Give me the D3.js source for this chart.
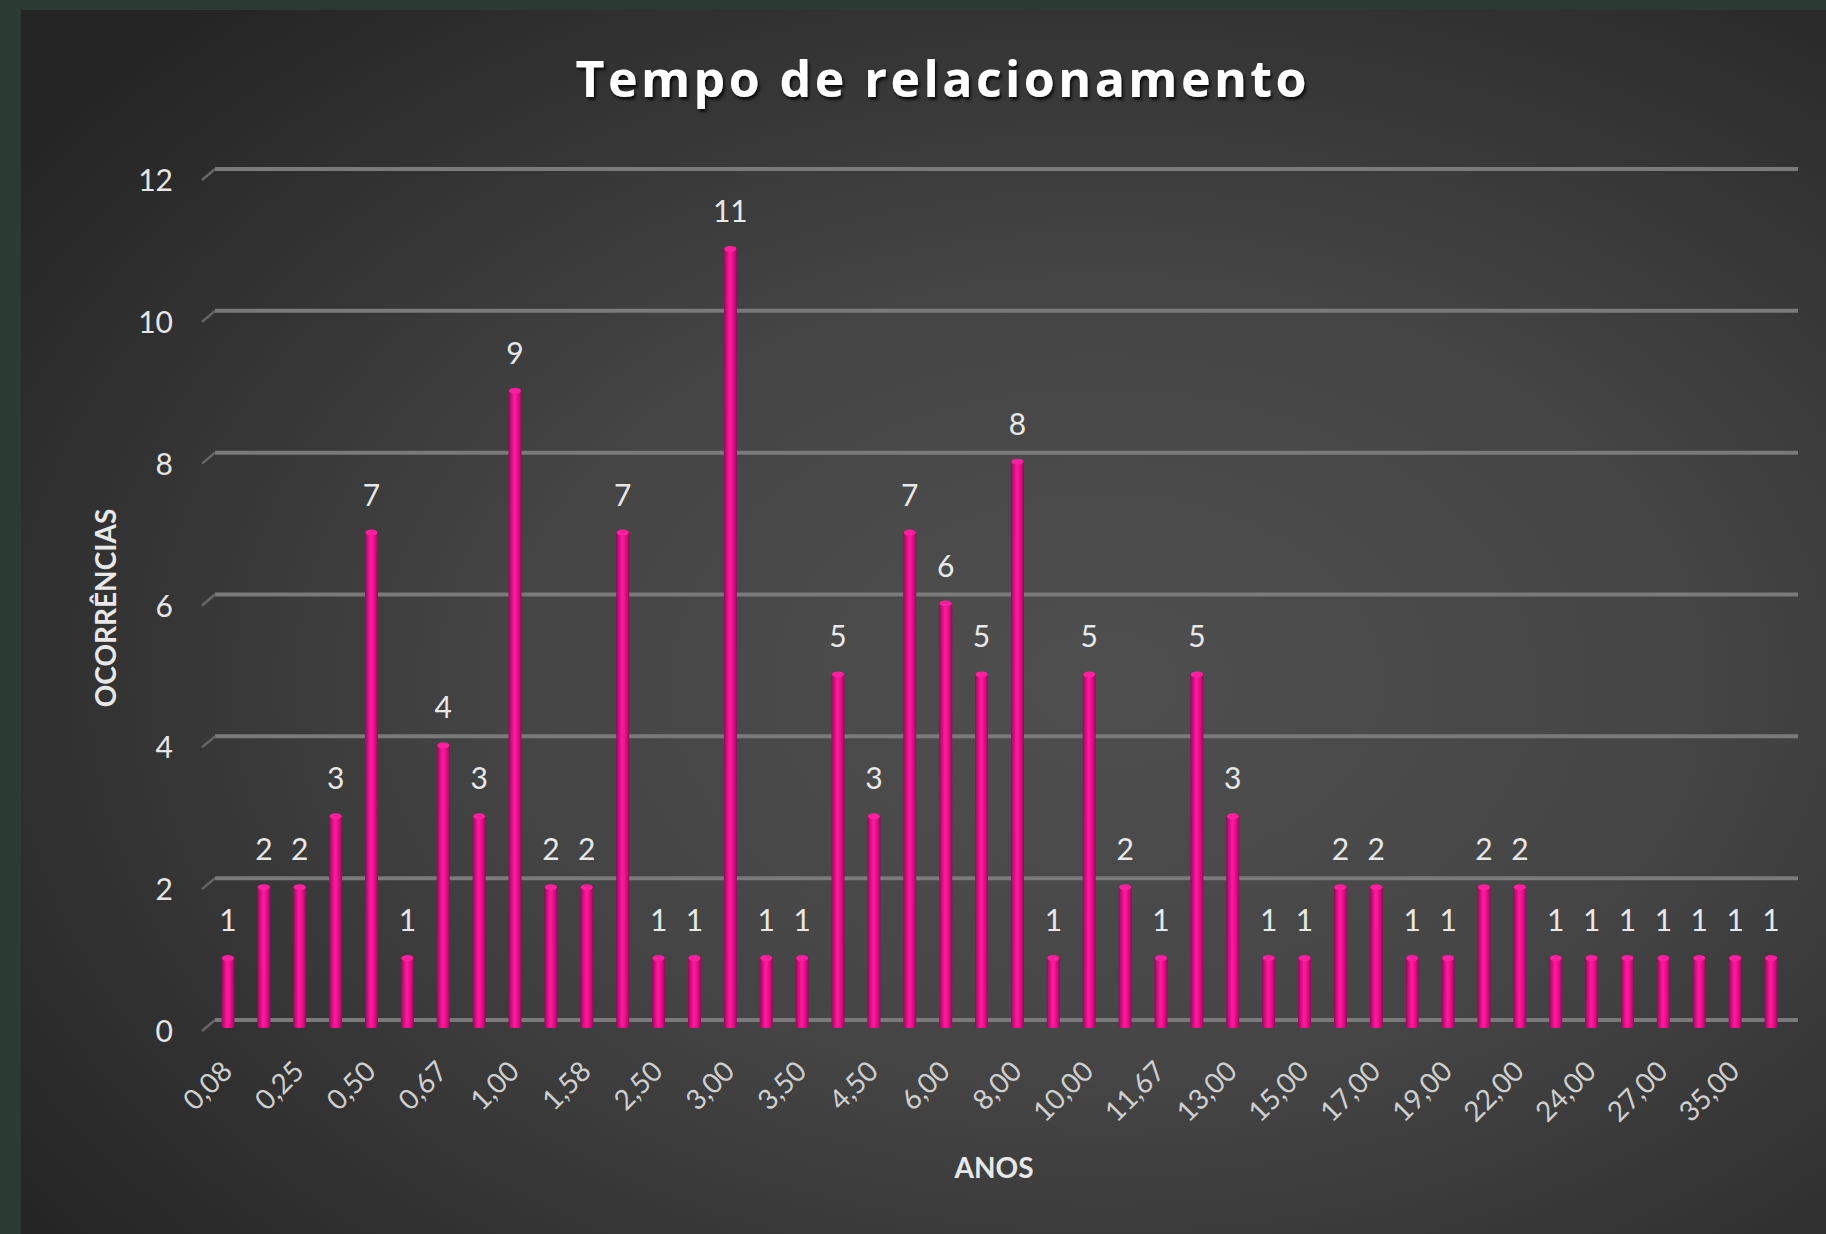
<!DOCTYPE html>
<html><head><meta charset="utf-8">
<script src="https://cdn.jsdelivr.net/npm/d3@7"></script>
<style>html,body{margin:0;padding:0;background:#2b3a33;} svg{display:block}</style>
</head><body>
<script>
// ---- data ----
const categories = ["0,08","0,17","0,25","0,33","0,50","0,58","0,67","0,75","1,00","1,50","1,58","2,00",
  "2,50","2,75","3,00","3,25","3,50","4,00","4,50","5,00","6,00","7,00","8,00","9,00","10,00","11,00",
  "11,67","12,00","13,00","14,00","15,00","16,00","17,00","18,00","19,00","20,00","22,00","23,00",
  "24,00","25,00","27,00","30,00","35,00","40,00"];
const values = [1,2,2,3,7,1,4,3,9,2,2,7,1,1,11,1,1,5,3,7,6,5,8,1,5,2,1,5,3,1,1,2,2,1,1,2,2,1,1,1,1,1,1,1];
const yTicks = [0,2,4,6,8,10,12];
const titleText = "Tempo de relacionamento";
const yTitleText = "OCORRÊNCIAS";
const xTitleText = "ANOS";

// ---- layout ----
const W = 1826, H = 1234;
const svg = d3.select("body").append("svg").attr("width", W).attr("height", H);
const defs = svg.append("defs");

const bg = defs.append("radialGradient").attr("id","bg")
  .attr("cx","0.6").attr("cy","0.55").attr("r","0.75");
bg.append("stop").attr("offset","0").attr("stop-color","#4f4f4f");
bg.append("stop").attr("offset","0.43").attr("stop-color","#454545");
bg.append("stop").attr("offset","1").attr("stop-color","#242424");

const bar = defs.append("linearGradient").attr("id","bar").attr("x1","0").attr("x2","1").attr("y1","0").attr("y2","0");
[["0","#8e0a58"],["0.18","#c80d7c"],["0.45","#ff1a9c"],["0.62","#f5128f"],["0.85","#c40c78"],["1","#8e0a58"]]
  .forEach(([o,c]) => bar.append("stop").attr("offset",o).attr("stop-color",c));

const sh = defs.append("filter").attr("id","shadow").attr("x","-10%").attr("y","-30%").attr("width","120%").attr("height","160%");
sh.append("feDropShadow").attr("dx",2).attr("dy",3).attr("stdDeviation",1.5).attr("flood-color","#000").attr("flood-opacity",0.75);

svg.append("rect").attr("width",W).attr("height",H).attr("fill","#2b3a33");
svg.append("rect").attr("x",21).attr("y",10).attr("width",W-21).attr("height",H-10).attr("fill","url(#bg)");

const x = d3.scaleBand().domain(d3.range(categories.length)).range([210, 1789]);
const y = d3.scaleLinear().domain([0, 12]).range([1027, 176]);
const cx = i => x(i) + x.bandwidth() / 2;
const bw = 13;
const depth = 7;

// gridlines
const grid = svg.append("g");
yTicks.forEach(v => {
  const gy = y(v) - depth;
  grid.append("line").attr("x1",215).attr("x2",1798).attr("y1",gy).attr("y2",gy)
    .attr("stroke","#7a7a7a").attr("stroke-width",4);
  grid.append("line").attr("x1",202).attr("x2",215).attr("y1",gy+11).attr("y2",gy)
    .attr("stroke","#666").attr("stroke-width",2.5);
});

// y tick labels
svg.append("g").selectAll("text").data(yTicks).join("text")
  .attr("x",173).attr("y",d => y(d) + 3)
  .attr("text-anchor","end").attr("dominant-baseline","central")
  .attr("font-family","Lato, sans-serif").attr("font-size",30).attr("fill","#e6e6e6")
  .text(d => d);

// bars
const bars = svg.append("g");
bars.selectAll("rect").data(values).join("rect")
  .attr("x",(d,i) => cx(i) - bw/2).attr("width",bw)
  .attr("y",d => y(d)).attr("height",d => y(0) - y(d) + 1)
  .attr("rx",3)
  .attr("fill","url(#bar)");
bars.selectAll("ellipse").data(values).join("ellipse")
  .attr("cx",(d,i) => cx(i)).attr("cy",d => y(d) + 2)
  .attr("rx",bw/2 - 0.5).attr("ry",3).attr("fill","#ff1f9f");

// data labels
svg.append("g").selectAll("text").data(values).join("text")
  .attr("x",(d,i) => cx(i)).attr("y",d => y(d) - 37)
  .attr("text-anchor","middle").attr("dominant-baseline","central")
  .attr("font-family","Lato, sans-serif").attr("font-size",30).attr("fill","#e8e8e8")
  .text(d => d);

// x tick labels (every other category shown)
svg.append("g").selectAll("text").data(categories.map((c,i) => ({c,i})).filter(d => d.i % 2 === 0)).join("text")
  .attr("transform",d => `translate(${cx(d.i) + 6},${1073}) rotate(-45)`)
  .attr("text-anchor","end")
  .attr("font-family","Lato, sans-serif").attr("font-size",28).attr("fill","#cfcfcf")
  .text(d => d.c);

// axis titles
svg.append("text").attr("transform","translate(105,608) rotate(-90)")
  .attr("text-anchor","middle").attr("dominant-baseline","central")
  .attr("font-family","Lato, sans-serif").attr("font-weight","bold").attr("font-size",28).attr("fill","#e8e8e8")
  .text(yTitleText);
svg.append("text").attr("x",994).attr("y",1178).attr("text-anchor","middle")
  .attr("font-family","Lato, sans-serif").attr("font-weight","bold").attr("font-size",28).attr("fill","#e8e8e8")
  .text(xTitleText);

// title
const t = svg.append("text").attr("x",941).attr("y",97).attr("text-anchor","middle")
  .attr("font-family","'Open Sans', sans-serif").attr("font-weight","bold").attr("font-size",50)
  .attr("fill","#ffffff").attr("filter","url(#shadow)")
  .text(titleText);
const len = t.node().getComputedTextLength();
const ls = (731 - len) / (titleText.length - 1);
t.attr("letter-spacing", ls).attr("x", 941 + ls/2);
</script>
</body></html>
